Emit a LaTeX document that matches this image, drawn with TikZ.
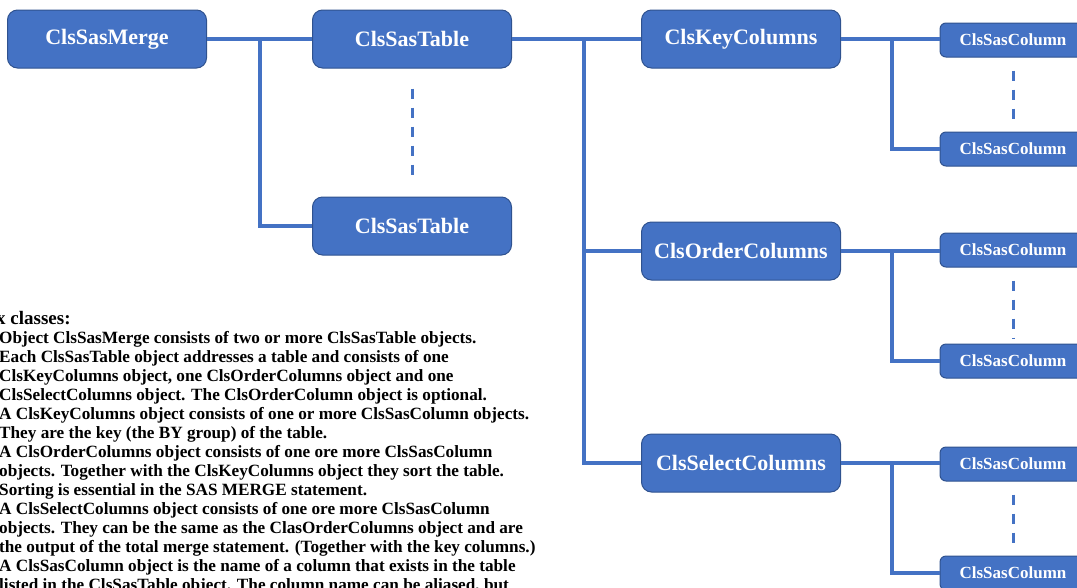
\documentclass[tikz,border=0pt]{standalone}
\usepackage{fontspec}
\setmainfont{Liberation Serif}
\usetikzlibrary{positioning}
\definecolor{boxblue}{RGB}{68,114,196}
\definecolor{edgeblue}{RGB}{47,82,143}
\tikzset{
  cbox/.style   = {rounded corners=10pt, fill=boxblue, draw=edgeblue, line width=1pt,
                   text=white, font=\fontsize{22}{24}\selectfont\bfseries,
                   minimum width=199pt, minimum height=58pt, inner sep=0pt},
  % the column boxes run past the right edge of the page
  csmall/.style = {cbox, rounded corners=6pt, minimum width=146pt,
                   minimum height=34pt, font=\fontsize{17}{19}\selectfont\bfseries},
  link/.style   = {draw=boxblue, line width=4pt},
  gap/.style    = {draw=boxblue, line width=3pt, dash pattern=on 10pt off 9pt},
  notes/.style  = {align=left, inner sep=0pt, font=\fontsize{17.2}{19}\selectfont\bfseries},
}

\begin{document}
\begin{tikzpicture}[x=1pt, y=1pt]
    \useasboundingbox (0,0) rectangle (1077,-587);
    \clip (0,0) rectangle (1077,-587);

    \node[cbox] (merge) at (107,-39)  {ClsSasMerge};
    \node[cbox] (tab1)  at (412,-39)  {ClsSasTable};
    \node[cbox] (tab2)  at (412,-226) {ClsSasTable};

    \node[cbox] (key) at (741,-39)  {ClsKeyColumns};
    \node[cbox] (ord) at (741,-251) {ClsOrderColumns};
    \node[cbox] (sel) at (741,-463) {ClsSelectColumns};

    \node[csmall] (key1) at (1013,-40)  {ClsSasColumn};
    \node[csmall] (key2) at (1013,-149) {ClsSasColumn};
    \node[csmall] (ord1) at (1013,-250) {ClsSasColumn};
    \node[csmall] (ord2) at (1013,-361) {ClsSasColumn};
    \node[csmall] (sel1) at (1013,-464) {ClsSasColumn};
    \node[csmall] (sel2) at (1013,-573) {ClsSasColumn};

    \coordinate (jm) at (260,-39);
    \coordinate (jt) at (584,-39);
    \coordinate (jk) at (892,-39);
    \coordinate (jo) at (892,-251);
    \coordinate (js) at (892,-463);

    \draw[link] (merge) -- (tab1);
    \draw[link] (jm) |- (tab2);
    \draw[link] (tab1) -- (key);
    \draw[link] (jt) |- (ord);
    \draw[link] (jt) |- (sel);
    \draw[link] (key) -- (key1.west |- key);
    \draw[link] (jk) |- (key2);
    \draw[link] (ord) -- (ord1.west |- ord);
    \draw[link] (jo) |- (ord2);
    \draw[link] (sel) -- (sel1.west |- sel);
    \draw[link] (js) |- (sel2);

    \draw[gap] ([yshift=-20pt]tab1.south) -- ([yshift=14pt]tab2.north);
    \draw[gap] ([yshift=-13pt]key1.south) -- ([yshift=5pt]key2.north);
    \draw[gap] ([yshift=-13pt]ord1.south) -- ([yshift=5pt]ord2.north);
    \draw[gap] ([yshift=-13pt]sel1.south) -- ([yshift=5pt]sel2.north);

    \node[notes, anchor=base west, font=\fontsize{19}{21}\selectfont\bfseries]
        (head) at (-4,-324) {x classes:};
    \node[notes, anchor=north west] (text) at (-1,-331)
        {Object ClsSasMerge consists of two or more ClsSasTable objects.\\
         Each ClsSasTable object addresses a table and consists of one\\
         ClsKeyColumns object, one ClsOrderColumns object and one\\
         ClsSelectColumns object. The ClsOrderColumn object is optional.\\
         A ClsKeyColumns object consists of one or more ClsSasColumn objects.\\
         They are the key (the BY group) of the table.\\
         A ClsOrderColumns object consists of one ore more ClsSasColumn\\
         objects. Together with the ClsKeyColumns object they sort the table.\\
         Sorting is essential in the SAS MERGE statement.\\
         A ClsSelectColumns object consists of one ore more ClsSasColumn\\
         objects. They can be the same as the ClasOrderColumns object and are\\
         the output of the total merge statement. (Together with the key columns.)\\
         A ClsSasColumn object is the name of a column that exists in the table\\
         listed in the ClsSasTable object. The column name can be aliased, but};
\end{tikzpicture}
\end{document}
